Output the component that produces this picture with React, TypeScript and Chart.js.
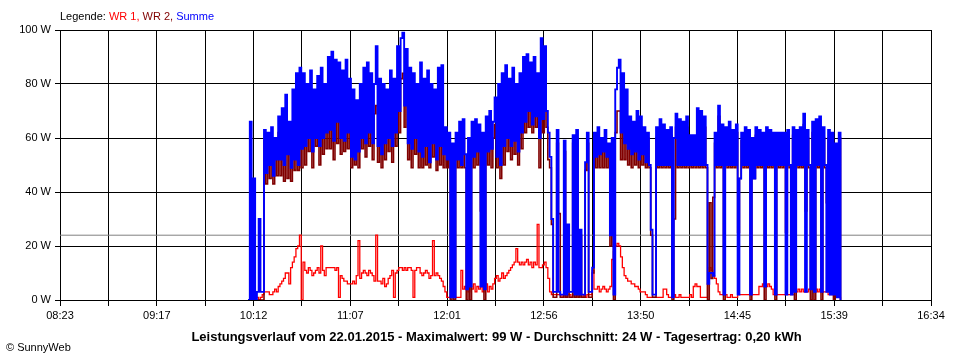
import React, { useEffect, useRef } from 'react';
import { Chart, registerables } from 'chart.js';

Chart.register(...registerables);

// Time axis in minutes since midnight
const X_MIN = 503; // 08:23
const X_MAX = 994; // 16:34
const START_MIN = 609; // first sample 10:09, one sample per minute
const xTickLabels = ['08:23', '09:17', '10:12', '11:07', '12:01', '12:56', '13:50', '14:45', '15:39', '16:34'];
const Y_MIN = 0;
const Y_MAX = 100;
const Y_STEP = 20;
const AVERAGE_W = 24;

const legendParts = [
  { text: 'Legende: ', color: '#000000' },
  { text: 'WR 1, ', color: '#FF0000' },
  { text: 'WR 2, ', color: '#800000' },
  { text: 'Summe', color: '#0000FF' },
];
const titleText = 'Leistungsverlauf vom 22.01.2015 - Maximalwert: 99 W - Durchschnitt: 24 W - Tagesertrag: 0,20 kWh';
const copyrightText = '\u00A9 SunnyWeb';

// Summe (blue)
const summe = [
  0, 66, 0, 45, 0, 3, 30, 3, 3, 63,
  47, 62, 50, 64, 46, 60, 52, 68, 52, 71,
  50, 76, 54, 66, 49, 78, 52, 84, 50, 86,
  56, 84, 57, 80, 60, 85, 55, 78, 60, 83,
  57, 86, 60, 80, 62, 90, 63, 92, 59, 89,
  66, 88, 60, 85, 59, 89, 62, 82, 53, 78,
  52, 74, 55, 80, 60, 86, 58, 88, 62, 84,
  58, 80, 94, 57, 82, 54, 80, 58, 78, 60,
  85, 57, 82, 62, 94, 70, 97, 99, 72, 93,
  58, 86, 56, 84, 60, 80, 55, 88, 53, 82,
  57, 85, 51, 80, 58, 78, 52, 86, 57, 87,
  54, 64, 52, 62, 1, 58, 1, 62, 52, 66,
  50, 67, 54, 4, 60, 5, 66, 53, 67, 55,
  65, 5, 62, 4, 68, 55, 70, 56, 66, 75,
  53, 80, 50, 84, 57, 87, 60, 82, 57, 86,
  59, 80, 55, 84, 62, 90, 66, 91, 70, 88,
  65, 90, 68, 84, 60, 97, 67, 94, 70, 62,
  53, 30, 3, 3, 63, 3, 2, 2, 59, 2,
  28, 3, 3, 61, 2, 63, 2, 26, 2, 2,
  51, 62, 3, 3, 12, 62, 53, 64, 54, 60,
  55, 63, 53, 58, 24, 60, 2, 78, 86, 89,
  62, 84, 58, 78, 56, 68, 54, 66, 55, 70,
  52, 68, 54, 64, 51, 62, 50, 26, 2, 2,
  64, 50, 67, 50, 65, 50, 63, 50, 64, 1,
  60, 69, 50, 67, 50, 66, 50, 68, 50, 61,
  50, 61, 50, 71, 50, 70, 50, 68, 50, 6,
  10, 10, 9, 62, 50, 72, 50, 65, 2, 64,
  50, 66, 50, 63, 50, 65, 2, 45, 62, 50,
  64, 50, 63, 2, 60, 45, 64, 50, 63, 50,
  62, 5, 64, 50, 63, 50, 62, 2, 62, 50,
  62, 50, 62, 2, 63, 50, 2, 64, 3, 63,
  50, 64, 50, 69, 3, 63, 50, 4, 66, 3,
  67, 50, 68, 3, 64, 50, 3, 63, 2, 62,
  2, 58, 1, 62, 0,
];

// WR 2 (dark red)
const wr2 = [
  0, 0, 0, 0, 0, 0, 0, 0, 0, 59,
  43, 58, 45, 60, 43, 56, 46, 62, 46, 63,
  44, 66, 45, 58, 44, 64, 48, 66, 48, 67,
  49, 70, 50, 68, 55, 72, 49, 65, 57, 70,
  50, 72, 54, 70, 56, 75, 56, 76, 52, 74,
  58, 73, 54, 72, 55, 76, 56, 70, 49, 66,
  50, 64, 49, 68, 56, 73, 53, 75, 57, 72,
  52, 69, 72, 51, 72, 49, 70, 52, 68, 55,
  73, 51, 72, 57, 80, 62, 82, 84, 64, 80,
  52, 74, 49, 72, 54, 69, 49, 76, 49, 72,
  50, 74, 49, 70, 53, 68, 48, 75, 50, 76,
  49, 58, 49, 60, 0, 52, 0, 55, 49, 58,
  49, 60, 49, 0, 54, 0, 60, 49, 62, 50,
  58, 33, 55, 0, 62, 50, 62, 49, 60, 65,
  49, 70, 45, 72, 50, 76, 55, 70, 52, 74,
  54, 66, 50, 71, 56, 74, 62, 76, 64, 74,
  62, 75, 64, 72, 49, 82, 62, 80, 64, 52,
  49, 28, 1, 1, 58, 32, 1, 1, 55, 1,
  26, 1, 1, 58, 1, 60, 1, 24, 1, 1,
  48, 58, 1, 1, 10, 57, 49, 59, 49, 56,
  49, 58, 49, 53, 20, 55, 0, 62, 70, 70,
  52, 68, 52, 66, 50, 60, 49, 60, 50, 64,
  49, 64, 50, 61, 49, 60, 49, 24, 1, 1,
  60, 49, 63, 49, 62, 49, 60, 49, 61, 0,
  30, 64, 49, 63, 49, 62, 49, 64, 49, 58,
  49, 57, 49, 66, 49, 66, 49, 64, 49, 0,
  36, 8, 38, 58, 49, 68, 49, 62, 0, 61,
  49, 63, 49, 60, 49, 62, 25, 45, 59, 49,
  61, 49, 60, 0, 57, 45, 61, 49, 58, 49,
  57, 0, 59, 49, 58, 49, 59, 0, 60, 49,
  60, 49, 60, 25, 60, 49, 32, 61, 0, 60,
  49, 61, 49, 65, 33, 60, 49, 0, 62, 0,
  63, 49, 64, 0, 60, 49, 36, 60, 28, 59,
  0, 55, 36, 60, 0,
];

// WR 1 (red)
const wr1 = [
  0, 0, 0, 0, 1, 1, 0, 1, 2, 3,
  3, 3, 2, 2, 3, 4, 3, 5, 6, 7,
  8, 10, 10, 6, 12, 14, 16, 19, 20, 24,
  0, 14, 11, 10, 12, 11, 9, 10, 11, 12,
  10, 20, 11, 9, 12, 12, 12, 12, 12, 11,
  12, 1, 9, 8, 7, 7, 6, 6, 6, 7,
  6, 9, 22, 8, 10, 11, 10, 9, 11, 10,
  9, 7, 24, 7, 7, 6, 8, 5, 6, 8,
  9, 11, 1, 10, 11, 12, 12, 11, 12, 11,
  12, 12, 11, 1, 11, 12, 12, 10, 9, 10,
  11, 10, 8, 9, 22, 9, 10, 9, 8, 7,
  5, 3, 1, 1, 1, 1, 1, 1, 1, 1,
  11, 4, 5, 4, 3, 5, 4, 6, 3, 5,
  4, 5, 3, 4, 6, 3, 5, 4, 6, 8,
  9, 7, 8, 10, 8, 9, 10, 11, 12, 13,
  14, 19, 14, 13, 14, 13, 14, 15, 13, 14,
  12, 14, 13, 28, 12, 12, 13, 14, 12, 8,
  3, 2, 2, 2, 2, 2, 2, 1, 2, 1,
  2, 2, 1, 2, 2, 2, 1, 2, 1, 2,
  1, 2, 2, 2, 11, 4, 4, 5, 3, 4,
  5, 4, 3, 4, 5, 15, 18, 20, 21, 20,
  16, 12, 9, 8, 7, 7, 6, 6, 5, 5,
  4, 3, 3, 3, 2, 1, 1, 1, 1, 1,
  1, 1, 1, 1, 4, 4, 2, 1, 1, 1,
  2, 1, 1, 2, 1, 1, 1, 1, 1, 2,
  1, 5, 6, 5, 5, 1, 1, 1, 1, 6,
  12, 11, 9, 8, 6, 3, 2, 2, 2, 2,
  1, 1, 2, 1, 1, 1, 2, 2, 2, 2,
  2, 2, 2, 2, 2, 2, 2, 2, 5, 5,
  6, 5, 5, 6, 5, 4, 2, 2, 2, 2,
  2, 2, 2, 2, 2, 2, 2, 2, 3, 3,
  4, 3, 4, 3, 3, 3, 4, 4, 4, 3,
  4, 3, 4, 3, 3, 3, 3, 2, 2, 2,
  2, 1, 1, 1, 0,
];

const FONT_FAMILY = '"Liberation Sans", Arial, sans-serif';

const toPoints = (arr: number[]) => arr.map((v, i) => ({ x: START_MIN + i, y: v }));

const textPlugin = {
  id: 'sunnyTexts',
  afterDraw(chart: any) {
    const ctx = chart.ctx as CanvasRenderingContext2D;
    const ca = chart.chartArea;
    ctx.save();
    ctx.textBaseline = 'middle';
    ctx.textAlign = 'left';
    ctx.font = `11px ${FONT_FAMILY}`;
    let x = ca.left;
    for (const p of legendParts) {
      ctx.fillStyle = p.color;
      ctx.fillText(p.text, x, 17);
      x += ctx.measureText(p.text).width;
    }
    ctx.fillStyle = '#000000';
    ctx.font = `bold 13px ${FONT_FAMILY}`;
    ctx.textAlign = 'center';
    ctx.fillText(titleText, (ca.left + ca.right) / 2 + 1, 337);
    ctx.font = `11px ${FONT_FAMILY}`;
    ctx.textAlign = 'left';
    ctx.fillText(copyrightText, 6, 348);
    ctx.restore();
  },
};

export default function App() {
  const canvasRef = useRef<HTMLCanvasElement | null>(null);

  useEffect(() => {
    if (!canvasRef.current) return;
    Chart.defaults.font.family = FONT_FAMILY;
    Chart.defaults.font.size = 11;
    Chart.defaults.color = '#000000';

    const chart = new Chart(canvasRef.current, {
      type: 'line',
      data: {
        datasets: [
          {
            label: 'Summe',
            data: toPoints(summe),
            borderColor: '#0000FF',
            borderWidth: 1.9,
            stepped: true,
            pointRadius: 0,
            fill: false,
          },
          {
            label: 'WR 2',
            data: toPoints(wr2),
            borderColor: '#800000',
            borderWidth: 1.6,
            stepped: true,
            pointRadius: 0,
            fill: false,
          },
          {
            label: 'WR 1',
            data: toPoints(wr1),
            borderColor: '#FF0000',
            borderWidth: 1.3,
            stepped: true,
            pointRadius: 0,
            fill: false,
          },
          {
            label: 'Durchschnitt',
            data: [
              { x: X_MIN, y: AVERAGE_W },
              { x: X_MAX, y: AVERAGE_W },
            ],
            borderColor: '#808080',
            borderWidth: 1,
            pointRadius: 0,
            fill: false,
          },
        ],
      },
      options: {
        responsive: false,
        animation: false,
        devicePixelRatio: 1,
        parsing: false as any,
        layout: { padding: { left: 0, top: 30, right: 29, bottom: 0 } },
        plugins: {
          legend: { display: false },
          tooltip: { enabled: false },
          title: { display: false },
        },
        elements: { line: { tension: 0 }, point: { radius: 0 } },
        scales: {
          x: {
            type: 'linear',
            min: X_MIN,
            max: X_MAX,
            afterBuildTicks: (scale: any) => {
              const n = (xTickLabels.length - 1) * 2;
              scale.ticks = Array.from({ length: n + 1 }, (_, i) => ({ value: X_MIN + (i * (X_MAX - X_MIN)) / n }));
            },
            afterFit: (scale: any) => {
              scale.height = 60;
            },
            ticks: {
              autoSkip: false,
              maxRotation: 0,
              minRotation: 0,
              padding: 3,
              color: '#000000',
              font: { size: 11, family: FONT_FAMILY },
              callback: (_v: any, index: number) => (index % 2 === 0 ? xTickLabels[index / 2] : ''),
            },
            grid: { color: '#000000', lineWidth: 1, tickLength: 6, drawTicks: true },
            border: { display: true, color: '#000000', width: 1 },
          },
          y: {
            type: 'linear',
            min: Y_MIN,
            max: Y_MAX,
            afterFit: (scale: any) => {
              scale.width = 60;
            },
            ticks: {
              stepSize: Y_STEP,
              padding: 4,
              color: '#000000',
              font: { size: 11, family: FONT_FAMILY },
              callback: (v: any) => `${v} W`,
            },
            grid: { color: '#000000', lineWidth: 1, tickLength: 5, drawTicks: true },
            border: { display: true, color: '#000000', width: 1 },
          },
        },
      },
      plugins: [textPlugin],
    });

    return () => chart.destroy();
  }, []);

  return (
    <div style={{ position: 'absolute', left: 0, top: 0, width: 960, height: 360, background: '#ffffff' }}>
      <canvas ref={canvasRef} width={960} height={360} style={{ display: 'block', width: 960, height: 360 }} />
    </div>
  );
}
